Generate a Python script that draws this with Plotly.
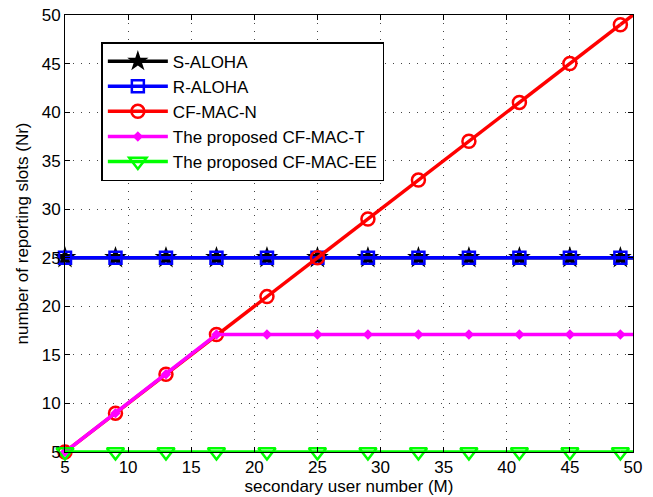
import plotly.graph_objects as go

x_pts = [5, 9, 13, 17, 21, 25, 29, 33, 37, 41, 45, 49]
x_end = 50
s_aloha = [25] * 12
s_aloha_end = 25
r_aloha = [25] * 12
r_aloha_end = 25
cf_mac_n = [5, 9, 13, 17.1, 21, 25, 29, 33, 37, 41, 45, 49]
cf_mac_n_end = 50
cf_mac_t = [5, 9, 13, 17.1, 17.1, 17.1, 17.1, 17.1, 17.1, 17.1, 17.1, 17.1]
cf_mac_t_end = 17.1
cf_mac_ee = [5] * 12
cf_mac_ee_end = 5

series = [
    ("S-ALOHA", s_aloha, s_aloha_end, "#000000", dict(symbol="star", size=17, color="#000000")),
    ("R-ALOHA", r_aloha, r_aloha_end, "#0000ff", dict(symbol="square-open", size=12, color="#0000ff", line=dict(width=2.5, color="#0000ff"))),
    ("CF-MAC-N", cf_mac_n, cf_mac_n_end, "#ff0000", dict(symbol="circle-open", size=13, color="#ff0000", line=dict(width=2.5, color="#ff0000"))),
    ("The proposed CF-MAC-T", cf_mac_t, cf_mac_t_end, "#ff00ff", dict(symbol="diamond", size=8, color="#ff00ff")),
    ("The proposed CF-MAC-EE", cf_mac_ee, cf_mac_ee_end, "#00ff00", dict(symbol="triangle-down-open", size=15, color="#00ff00", line=dict(width=2.5, color="#00ff00"))),
]

FONT = "Liberation Sans, Arial"

fig = go.Figure()
for name, ys, yend, color, mk in series:
    fig.add_trace(go.Scatter(x=[x_pts[-1], x_end], y=[ys[-1], yend], mode="lines",
                             line=dict(color=color, width=3.5), showlegend=False,
                             hoverinfo="skip", cliponaxis=False))
    fig.add_trace(go.Scatter(x=x_pts, y=ys, mode="lines+markers", name=name,
                             line=dict(color=color, width=3.5), marker=mk, cliponaxis=False))

tickvals = [5, 10, 15, 20, 25, 30, 35, 40, 45, 50]
axis_common = dict(
    tickvals=tickvals, ticks="inside", ticklen=5, tickcolor="black",
    showline=True, linecolor="black", linewidth=1, mirror="ticks",
    showgrid=True, gridcolor="#444444", griddash="1px,7px", gridwidth=1,
    zeroline=False, automargin=False,
    tickfont=dict(family=FONT, size=17, color="black"),
)
fig.update_xaxes(range=[5, 50], title=dict(text="secondary user number (M)", standoff=0,
                 font=dict(family=FONT, size=17, color="black")), **axis_common)
fig.update_yaxes(range=[5, 50], title=dict(text="number of reporting slots (Nr)", standoff=8,
                 font=dict(family=FONT, size=17, color="black")), **axis_common)

fig.update_layout(
    width=653, height=497,
    margin=dict(l=65, r=20, t=15, b=45),
    plot_bgcolor="white", paper_bgcolor="white",
    legend=dict(x=0.064, y=0.938, xanchor="left", yanchor="top",
                bgcolor="white", bordercolor="black", borderwidth=1.5,
                font=dict(family=FONT, size=17, color="black"),
                tracegroupgap=0, itemwidth=60),
    showlegend=True,
)

fig.write_html("out.html")
